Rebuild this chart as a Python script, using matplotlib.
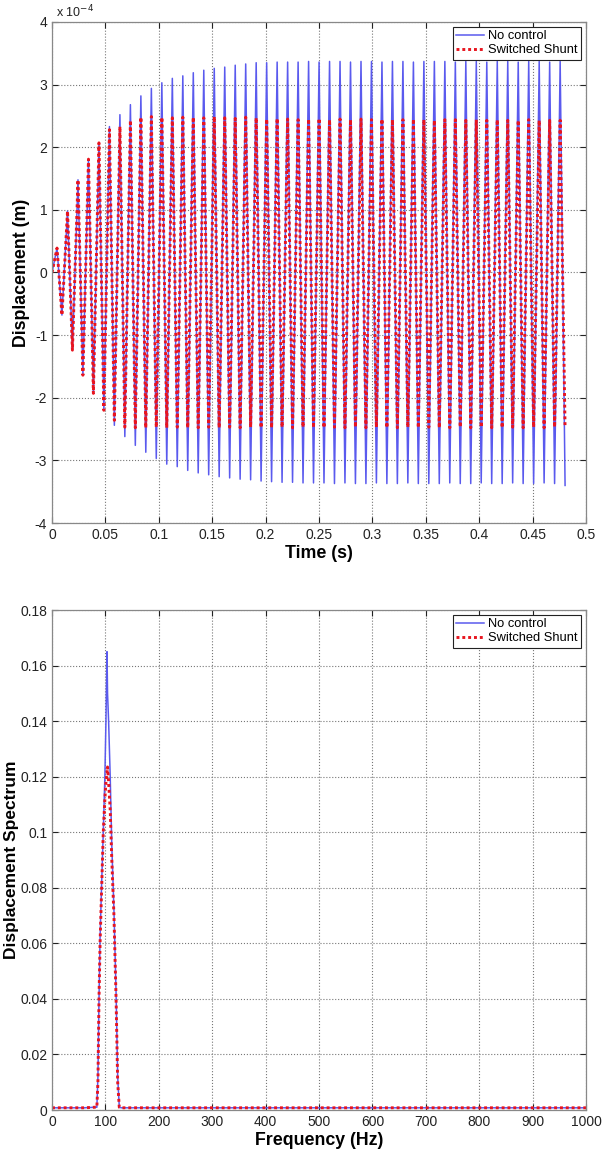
import numpy as np
import matplotlib.pyplot as plt

plt.rcParams['font.family'] = ['Liberation Sans', 'DejaVu Sans']
plt.rcParams['axes.unicode_minus'] = False

# ---- time response (values in units of 1e-4 m), one value per half cycle ----
first_peak_t = 0.0047
first_trough_t = 0.0093
period = 0.009815

blue_peaks = [0.39, 0.98, 1.48, 1.81, 2.07, 2.33, 2.52, 2.68, 2.82, 2.94,
              3.03, 3.10, 3.14, 3.19, 3.23, 3.26, 3.28, 3.31, 3.33, 3.35,
              3.35, 3.36, 3.36, 3.36, 3.37, 3.36, 3.37, 3.37, 3.36, 3.37,
              3.37, 3.36, 3.37, 3.37, 3.36, 3.37, 3.37, 3.37, 3.36, 3.37,
              3.37, 3.36, 3.37, 3.37, 3.36, 3.37, 3.37, 3.36, 3.37]
blue_troughs = [-0.68, -1.24, -1.64, -1.93, -2.20, -2.44, -2.62, -2.76, -2.87, -2.97,
                -3.06, -3.10, -3.16, -3.20, -3.23, -3.26, -3.28, -3.30, -3.31, -3.33,
                -3.34, -3.35, -3.35, -3.36, -3.36, -3.36, -3.37, -3.36, -3.37, -3.37,
                -3.36, -3.37, -3.37, -3.36, -3.37, -3.37, -3.37, -3.36, -3.37, -3.37,
                -3.36, -3.37, -3.37, -3.36, -3.37, -3.37, -3.36, -3.37, -3.40]
red_peaks = [0.39, 0.98, 1.48, 1.81, 2.07, 2.28, 2.33, 2.43, 2.48, 2.49,
             2.48, 2.47, 2.48, 2.48, 2.47, 2.49, 2.47, 2.46, 2.48, 2.47,
             2.45, 2.46, 2.45, 2.44, 2.45, 2.46, 2.44, 2.45, 2.44, 2.45,
             2.44, 2.45, 2.44, 2.44, 2.45, 2.44, 2.43, 2.44, 2.44, 2.43,
             2.44, 2.43, 2.44, 2.43, 2.43, 2.44, 2.43, 2.43, 2.43]
red_troughs = [-0.68, -1.24, -1.64, -1.93, -2.20, -2.36, -2.47, -2.48, -2.48, -2.47,
               -2.48, -2.47, -2.48, -2.48, -2.47, -2.48, -2.47, -2.48, -2.47, -2.48,
               -2.48, -2.47, -2.48, -2.47, -2.48, -2.48, -2.47, -2.48, -2.47, -2.48,
               -2.47, -2.48, -2.48, -2.47, -2.48, -2.47, -2.48, -2.48, -2.47, -2.48,
               -2.47, -2.48, -2.48, -2.47, -2.48, -2.47, -2.48, -2.47, -2.48]

# ---- displacement spectrum ----
freq_hz = [0, 20, 40, 60, 80, 84, 86, 88, 90, 93, 96, 99, 101, 103, 104, 106,
           109, 112, 116, 120, 123, 126, 130, 200, 300, 400, 500, 600, 700, 800,
           900, 1000]
blue_spec = [0.0008, 0.0008, 0.0008, 0.0008, 0.001, 0.001, 0.012, 0.04, 0.062,
             0.082, 0.10, 0.12, 0.14, 0.165, 0.15, 0.14, 0.12, 0.095, 0.072,
             0.042, 0.012, 0.001, 0.0008, 0.0008, 0.0008, 0.0008, 0.0008, 0.0008,
             0.0008, 0.0008, 0.0008, 0.0008]
red_spec = [0.0008, 0.0008, 0.0008, 0.0008, 0.001, 0.001, 0.01, 0.04, 0.06,
            0.08, 0.10, 0.112, 0.118, 0.121, 0.1235, 0.118, 0.108, 0.09, 0.07,
            0.04, 0.01, 0.001, 0.0008, 0.0008, 0.0008, 0.0008, 0.0008, 0.0008,
            0.0008, 0.0008, 0.0008, 0.0008]

legend_labels = ["No control", "Switched Shunt"]


def buildWave(peaks, troughs):
    n = len(peaks)
    tp = first_peak_t + period * np.arange(n)
    tt = first_trough_t + period * np.arange(len(troughs))
    t = [0.0]
    y = [0.0]
    for i in range(n):
        t.append(tp[i]); y.append(peaks[i])
        if i < len(troughs):
            t.append(tt[i]); y.append(troughs[i])
    return np.array(t), np.array(y)


def styleAxes(ax):
    ax.grid(True, linestyle=':', color='#777777', linewidth=0.8)
    ax.tick_params(direction='in', length=4, labelsize=10, colors='#222222',
                   top=True, right=True)
    for s in ax.spines.values():
        s.set_color('#888888')
        s.set_linewidth(0.9)


def addLegend(ax, handles):
    leg = ax.legend(handles, legend_labels, loc='upper right', fontsize=9.3,
                    fancybox=False, framealpha=1, edgecolor='#222222',
                    borderaxespad=0.35, handlelength=2.1, handletextpad=0.35,
                    borderpad=0.3, labelspacing=0.15)
    leg.get_frame().set_linewidth(0.8)
    return leg


fig = plt.figure(figsize=(6.09, 11.51), dpi=100)

blue_c = '#5a5aee'
red_c = '#e8141e'

# top chart
ax1 = fig.add_axes([0.0854, 0.5456, 0.8768, 0.4353])
tb, yb = buildWave(blue_peaks, blue_troughs)
tr, yr = buildWave(red_peaks, red_troughs)
l1, = ax1.plot(tb, yb, color=blue_c, linewidth=1.1)
l2, = ax1.plot(tr, yr, color=red_c, linewidth=2.1, linestyle=(0, (1, 1)))
ax1.set_xlim(0, 0.5)
ax1.set_ylim(-4, 4)
ax1.set_xticks(np.arange(0, 0.501, 0.05))
ax1.set_xticklabels(["0", "0.05", "0.1", "0.15", "0.2", "0.25", "0.3", "0.35",
                     "0.4", "0.45", "0.5"])
ax1.set_yticks(np.arange(-4, 5, 1))
styleAxes(ax1)
ax1.text(0.008, 1.004, r'x 10$^{-4}$', transform=ax1.transAxes, fontsize=9,
         color='#222222', ha='left', va='bottom')
ax1.set_xlabel("Time (s)", fontsize=12.8, fontweight='bold', labelpad=2)
ax1.set_ylabel("Displacement (m)", fontsize=12.8, fontweight='bold', labelpad=3)
addLegend(ax1, [l1, l2])

# bottom chart
ax2 = fig.add_axes([0.0854, 0.0356, 0.8768, 0.4344])
m1, = ax2.plot(freq_hz, blue_spec, color=blue_c, linewidth=1.1)
m2, = ax2.plot(freq_hz, red_spec, color=red_c, linewidth=2.1,
               linestyle=(0, (1, 1)))
ax2.set_xlim(0, 1000)
ax2.set_ylim(0, 0.18)
ax2.set_xticks(np.arange(0, 1001, 100))
ax2.set_yticks(np.arange(0, 0.181, 0.02))
ax2.set_yticklabels(["0", "0.02", "0.04", "0.06", "0.08", "0.1", "0.12",
                     "0.14", "0.16", "0.18"])
styleAxes(ax2)
ax2.set_xlabel("Frequency (Hz)", fontsize=12.8, fontweight='bold', labelpad=2)
ax2.set_ylabel("Displacement Spectrum", fontsize=12.5, fontweight='bold',
               labelpad=1)
addLegend(ax2, [m1, m2])

plt.savefig("out.png", dpi=100)
